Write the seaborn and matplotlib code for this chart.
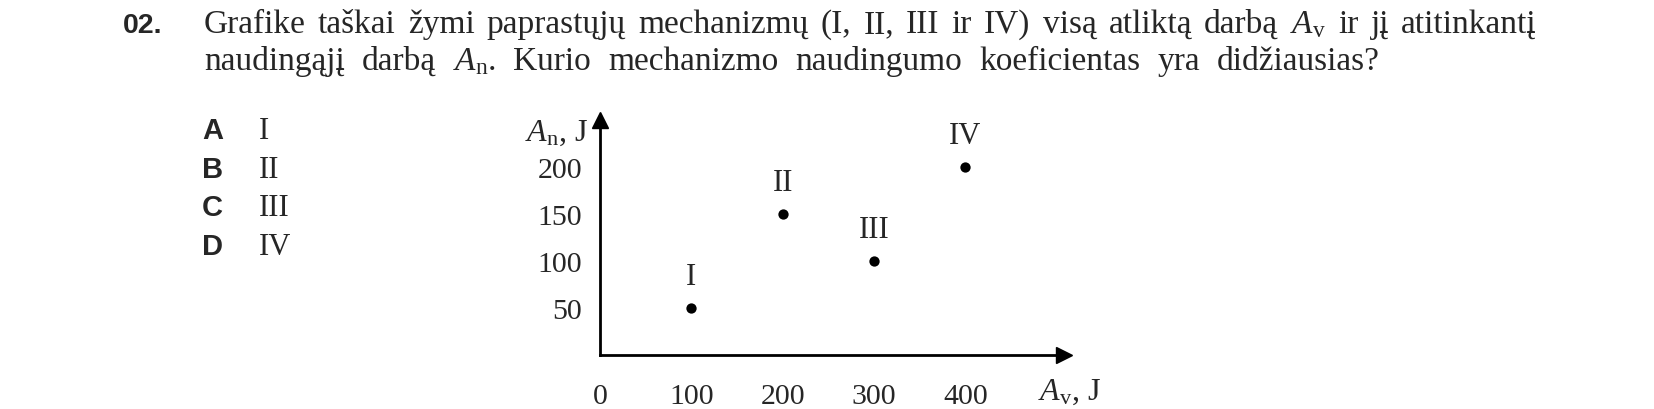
import matplotlib
matplotlib.use("Agg")
import matplotlib.pyplot as plt
import seaborn as sns
import pandas as pd

# duomenys
mechanizmai = ["I", "II", "III", "IV"]
visas_darbas = [100, 200, 300, 400]      # A_v, J
naudingas_darbas = [50, 150, 100, 200]   # A_n, J
x_ticks = [0, 100, 200, 300, 400]
y_ticks = [50, 100, 150, 200]
atsakymai = ["A", "B", "C", "D"]
atsakymu_tekstai = ["I", "II", "III", "IV"]

eilute1 = ["Grafike", "taškai", "žymi", "paprastųjų", "mechanizmų", "(I,", "II,", "III", "ir", "IV)",
           "visą", "atliktą", "darbą", r"$A_\mathrm{v}$", "ir", "jį", "atitinkantį"]
eilute2 = ["naudingąjį", "darbą", r"$A_\mathrm{n}$.", "Kurio", "mechanizmo", "naudingumo",
           "koeficientas", "yra", "didžiausias?"]

sns.set_style("white")
plt.rcParams["font.family"] = ["Liberation Serif", "DejaVu Serif"]
plt.rcParams["mathtext.fontset"] = "custom"
plt.rcParams["mathtext.rm"] = "Liberation Serif"
plt.rcParams["mathtext.it"] = "Liberation Serif:italic"

df = pd.DataFrame({"Av": visas_darbas, "An": naudingas_darbas, "vardas": mechanizmai})

W, H = 1654, 410
fig = plt.figure(figsize=(W / 100, H / 100), dpi=100)
fig.patch.set_facecolor("white")

# asys (pikseliais: x 600..1064, y 356..121)
ax = fig.add_axes([600 / W, (H - 356) / H, (1064 - 600) / W, (356 - 121) / H])
sns.scatterplot(data=df, x="Av", y="An", ax=ax, color="black", s=55, edgecolor="black", linewidth=0, zorder=3)

for _, r in df.iterrows():
    ax.annotate(r["vardas"], (r["Av"], r["An"]), xytext=(0, 31), textcoords="offset pixels",
                ha="center", va="center", fontsize=22)

ax.set_xlim(0, 508)
ax.set_ylim(0, 250)
ax.set_xticks(x_ticks)
ax.set_yticks(y_ticks)
ax.set_xticklabels([str(v) for v in x_ticks])
ax.set_yticklabels([str(v) for v in y_ticks])
ax.tick_params(axis="x", direction="inout", length=6, width=1.5, pad=17, labelsize=21.5)
ax.tick_params(axis="y", direction="inout", length=6, width=1.5, pad=10, labelsize=21.5)
ax.set_xlabel("")
ax.set_ylabel("")
for s in ["top", "right"]:
    ax.spines[s].set_visible(False)
for s in ["left", "bottom"]:
    ax.spines[s].set_linewidth(2)
    ax.spines[s].set_color("black")
ax.plot(1, 0, ">k", markersize=12, transform=ax.transAxes, clip_on=False)
ax.plot(0, 1, "^k", markersize=12, transform=ax.transAxes, clip_on=False)

fig.text(588 / W, 1 - 133 / H, r"$A_\mathrm{n}$, J", ha="right", va="center", fontsize=23)
fig.text(1038 / W, 1 - 392 / H, r"$A_\mathrm{v}$, J", ha="left", va="center", fontsize=23)

# klausimas
fig.text(123 / W, 1 - 33 / H, "02.", family="Liberation Sans", weight="bold", fontsize=20.5, va="baseline")

renderer = fig.canvas.get_renderer()


def isdestyti(zodziai, baseline, x0, x1, dydis):
    # žodžiai išdėstomi per visą eilutės plotį
    objektai = [fig.text(0, 1 - baseline / H, z, fontsize=dydis, va="baseline") for z in zodziai]
    plociai = [t.get_window_extent(renderer).width for t in objektai]
    tarpas = (x1 - x0 - sum(plociai)) / (len(zodziai) - 1)
    x = float(x0)
    for t, w in zip(objektai, plociai):
        t.set_x(x / W)
        x += w + tarpas


isdestyti(eilute1, 33, 204, 1537, 24)
isdestyti(eilute2, 70, 204, 1380, 24)

# atsakymų variantai
for i, (a, t) in enumerate(zip(atsakymai, atsakymu_tekstai)):
    y = 1 - (139 + 38.7 * i) / H
    fig.text(202 / W, y, a, family="Liberation Sans", weight="bold", fontsize=21, va="baseline")
    fig.text(259 / W, y, t, fontsize=22, va="baseline")

fig.savefig("out.png", dpi=100)
